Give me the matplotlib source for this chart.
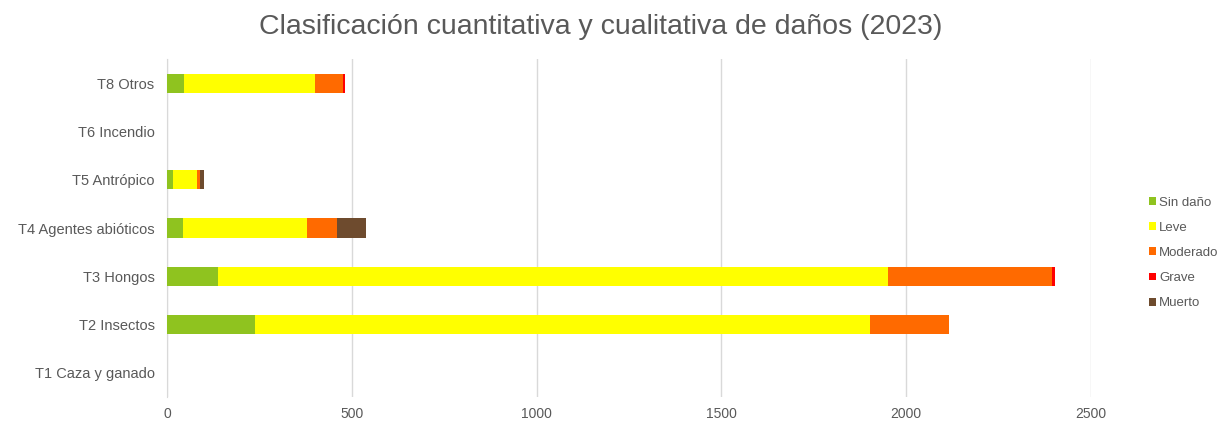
import numpy as np
import matplotlib.pyplot as plt

plt.rcParams['font.family'] = ['Liberation Sans Narrow', 'Liberation Sans', 'DejaVu Sans']

# categories bottom -> top
categorias = ['T1 Caza y ganado', 'T2 Insectos', 'T3 Hongos', 'T4 Agentes abióticos',
              'T5 Antrópico', 'T6 Incendio', 'T8 Otros']

sin_dano = [0, 239, 139, 42, 16, 0, 45]
leve = [0, 1663, 1813, 338, 66, 0, 355]
moderado = [0, 214, 442, 79, 7, 0, 76]
grave = [0, 0, 8, 0, 0, 0, 5]
muerto = [0, 0, 0, 79, 11, 0, 0]

series = [('Sin daño', sin_dano, '#8FC31F'),
          ('Leve', leve, '#FFFF00'),
          ('Moderado', moderado, '#FF6A00'),
          ('Grave', grave, '#FF0000'),
          ('Muerto', muerto, '#6E4B2E')]

fig = plt.figure(figsize=(12.29, 4.28), dpi=100)
ax = fig.add_axes([0.1359, 0.0724, 0.7518, 0.7897])

y = np.arange(len(categorias))
left = np.zeros(len(categorias))
for nombre, vals, color in series:
    ax.barh(y, vals, left=left, height=0.4, color=color, label=nombre, zorder=3)
    left += np.array(vals)

ax.set_xlim(0, 2500)
ax.set_ylim(-0.5, len(categorias) - 0.5)
ax.set_xticks([0, 500, 1000, 1500, 2000, 2500])
ax.set_yticks(y)
ax.set_yticklabels(categorias)
ax.tick_params(axis='both', length=0, colors='#595959', labelsize=10.5)
ax.tick_params(axis='y', pad=9)
ax.tick_params(axis='x', pad=7, labelsize=10)
ax.grid(axis='x', color='#d9d9d9', linewidth=1, zorder=0)
for s in ['top', 'right', 'bottom']:
    ax.spines[s].set_visible(False)
ax.spines['left'].set_color('#d9d9d9')

fig.suptitle('Clasificación cuantitativa y cualitativa de daños (2023)',
             x=0.489, y=0.968, fontsize=20.5, color='#595959')

fig.legend(loc='center left', bbox_to_anchor=(0.925, 0.409), frameon=False,
           fontsize=9.5, handlelength=0.55, handleheight=0.55, handletextpad=0.25,
           labelspacing=1.0, labelcolor='#595959')

fig.savefig('out.png', dpi=100)
